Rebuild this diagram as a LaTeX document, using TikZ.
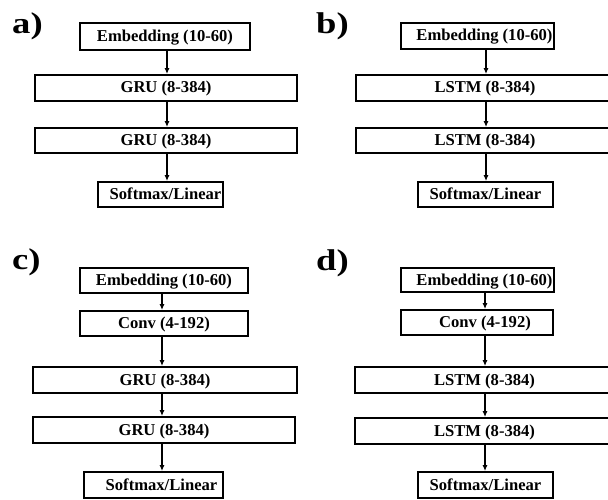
\documentclass[tikz,border=0pt]{standalone}
\usepackage{fontspec}
\setmainfont{Liberation Serif}
\usetikzlibrary{arrows.meta}
\begin{document}
\begin{tikzpicture}[x=1pt,y=-1pt,
  layer/.style={draw=black,line width=1.8pt,inner sep=0pt,text height=13pt,text depth=3pt,
    font=\bfseries\fontsize{16.6}{18}\selectfont},
  panellabel/.style={anchor=base west,inner sep=0pt,xscale=1.22,
    font=\bfseries\fontsize{30}{32}\selectfont},
  arr/.style={line width=1.3pt,-{Latex[length=6pt,width=5pt]}}]
\useasboundingbox (0,0) rectangle (608,500);
\fill[white] (0,0) rectangle (608,500);
% ---------- panel a ----------
\node[panellabel] (la) at (12,34) {a)};
\coordinate (xa) at (167,0);
\node[layer,minimum width=170pt,minimum height=27pt] (ea)  at (165,36.5) {Embedding (10-60)};
\node[layer,minimum width=262pt,minimum height=26pt] (ga1) at (166,88)   {GRU (8-384)};
\node[layer,minimum width=262pt,minimum height=25pt] (ga2) at (166,140.5) {GRU (8-384)};
\node[layer,minimum width=125pt,minimum height=25pt] (sa)  at (160.5,194.5) {\hspace*{10pt}Softmax/Linear};
\draw[arr] (ea.south -| xa) -- (ga1.north -| xa);
\draw[arr] (ga1.south -| xa) -- (ga2.north -| xa);
\draw[arr] (ga2.south -| xa) -- (sa.north -| xa);
% ---------- panel b ----------
\node[panellabel] (lb) at (316,34) {b)};
\coordinate (xb) at (486,0);
\node[layer,minimum width=153pt,minimum height=26pt] (eb)  at (477.5,36) {\hspace*{14pt}Embedding (10-60)};
\node[layer,minimum width=258pt,minimum height=26pt] (lb1) at (485,88)   {LSTM (8-384)};
\node[layer,minimum width=258pt,minimum height=25pt] (lb2) at (485,140.5) {LSTM (8-384)};
\node[layer,minimum width=135pt,minimum height=25pt] (sb)  at (485.5,194.5) {Softmax/Linear};
\draw[arr] (eb.south -| xb) -- (lb1.north -| xb);
\draw[arr] (lb1.south -| xb) -- (lb2.north -| xb);
\draw[arr] (lb2.south -| xb) -- (sb.north -| xb);
% ---------- panel c ----------
\node[panellabel] (lc) at (12,269) {c)};
\coordinate (xc) at (162,0);
\node[layer,minimum width=168pt,minimum height=25pt] (ec)  at (164,280.5) {Embedding (10-60)};
\node[layer,minimum width=168pt,minimum height=25pt] (cc)  at (164,323.5) {Conv (4-192)};
\node[layer,minimum width=264pt,minimum height=26pt] (gc1) at (165,380)   {GRU (8-384)};
\node[layer,minimum width=262pt,minimum height=26pt] (gc2) at (164,430)   {GRU (8-384)};
\node[layer,minimum width=139pt,minimum height=26pt] (sc)  at (153.5,485) {\hspace*{16pt}Softmax/Linear};
\draw[arr] (ec.south -| xc) -- (cc.north -| xc);
\draw[arr] (cc.south -| xc) -- (gc1.north -| xc);
\draw[arr] (gc1.south -| xc) -- (gc2.north -| xc);
\draw[arr] (gc2.south -| xc) -- (sc.north -| xc);
% ---------- panel d ----------
\node[panellabel] (ld) at (316,270) {d)};
\coordinate (xd) at (485,0);
\node[layer,minimum width=153pt,minimum height=24pt] (ed)  at (477.5,280) {\hspace*{14pt}Embedding (10-60)};
\node[layer,minimum width=152pt,minimum height=25pt] (cd)  at (477,322.5) {\hspace*{16pt}Conv (4-192)};
\node[layer,minimum width=259pt,minimum height=26pt] (ld1) at (484.5,380) {LSTM (8-384)};
\node[layer,minimum width=259pt,minimum height=26pt] (ld2) at (484.5,431) {LSTM (8-384)};
\node[layer,minimum width=135pt,minimum height=26pt] (sd)  at (485.5,485) {Softmax/Linear};
\draw[arr] (ed.south -| xd) -- (cd.north -| xd);
\draw[arr] (cd.south -| xd) -- (ld1.north -| xd);
\draw[arr] (ld1.south -| xd) -- (ld2.north -| xd);
\draw[arr] (ld2.south -| xd) -- (sd.north -| xd);
\end{tikzpicture}
\end{document}
